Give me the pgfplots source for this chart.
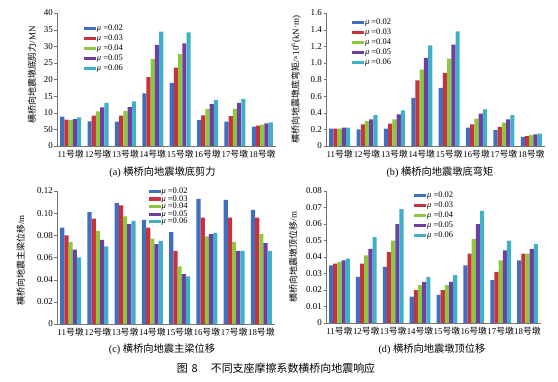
\documentclass[border=0pt]{standalone}
\usepackage{fontspec}
\setmainfont{Liberation Serif}
\newfontfamily\cjk{Noto Sans CJK SC}
\usepackage{pgfplots}
\usepackage{pgfplotstable}
\pgfplotsset{compat=1.18}
\definecolor{c1}{HTML}{3F6FC0}
\definecolor{c2}{HTML}{C8323C}
\definecolor{c3}{HTML}{8DC63F}
\definecolor{c4}{HTML}{6E3FA0}
\definecolor{c5}{HTML}{3FB0C8}
\newcommand\hd{{\cjk 号墩}}
\newcommand\mumu[1]{{\itshape μ} =#1}

\pgfplotstableread{
x a b c d e
0 8.8 7.9 7.8 8.1 8.6
1 7.4 9.1 10.4 11.6 13.0
2 7.3 9.1 10.5 11.7 13.4
3 15.8 20.7 26.2 30.4 34.4
4 19.0 23.6 27.6 30.9 34.2
5 7.8 9.2 11.2 12.6 13.9
6 7.3 9.0 11.2 13.0 14.2
7 5.8 6.1 6.4 6.8 7.1
}\tabA
\pgfplotstableread{
x a b c d e
0 0.21 0.21 0.21 0.22 0.22
1 0.20 0.26 0.30 0.32 0.37
2 0.21 0.27 0.32 0.38 0.43
3 0.58 0.79 0.92 1.06 1.21
4 0.70 0.88 1.05 1.22 1.38
5 0.22 0.26 0.33 0.39 0.44
6 0.19 0.23 0.28 0.32 0.37
7 0.11 0.12 0.13 0.14 0.15
}\tabB
\pgfplotstableread{
x a b c d e
0 0.087 0.080 0.074 0.067 0.060
1 0.101 0.095 0.084 0.076 0.070
2 0.109 0.107 0.097 0.090 0.093
3 0.094 0.087 0.077 0.072 0.075
4 0.083 0.066 0.052 0.045 0.043
5 0.113 0.096 0.079 0.081 0.082
6 0.112 0.096 0.074 0.066 0.066
7 0.103 0.096 0.081 0.073 0.066
}\tabC
\pgfplotstableread{
x a b c d e
0 0.035 0.036 0.037 0.038 0.039
1 0.028 0.036 0.041 0.045 0.052
2 0.034 0.043 0.050 0.060 0.069
3 0.016 0.020 0.023 0.025 0.028
4 0.017 0.020 0.023 0.025 0.029
5 0.035 0.042 0.051 0.060 0.068
6 0.026 0.031 0.038 0.044 0.050
7 0.038 0.042 0.042 0.045 0.048
}\tabD

\newcommand\fivebars[1]{%
  \addplot[fill=c1, bar shift=-0.3077] table[x=x,y=a]{#1};
  \addplot[fill=c2, bar shift=-0.1538] table[x=x,y=b]{#1};
  \addplot[fill=c3, bar shift=0] table[x=x,y=c]{#1};
  \addplot[fill=c4, bar shift=0.1538] table[x=x,y=d]{#1};
  \addplot[fill=c5, bar shift=0.3077] table[x=x,y=e]{#1};
  \legend{\mumu{0.02},\mumu{0.03},\mumu{0.04},\mumu{0.05},\mumu{0.06}}
}

\pgfplotsset{
 pier/.style={
  scale only axis, width=219bp, height=133bp, anchor=south west,
  ybar, bar width=0.1538, xmin=-0.5, xmax=7.5, ymin=0,
  scaled y ticks=false,
  axis x line*=bottom, axis y line*=left, axis line style={-, black!55},
  xtick={0,1,2,3,4,5,6,7},
  xticklabels={11\hd,12\hd,13\hd,14\hd,15\hd,16\hd,17\hd,18\hd},
  x tick style={draw=none},
  y tick style={black!55}, tick align=outside, major tick length=2.5bp,
  yticklabel style={font=\fontsize{9}{10}\selectfont, inner sep=1.5bp},
  xticklabel style={font=\fontsize{8.9}{10}\selectfont, inner sep=1bp},
  ylabel style={font=\fontsize{9}{10}\selectfont, anchor=center},
  legend style={draw=none, fill=none, font=\fontsize{8.5}{9}\selectfont,
    anchor=north west, inner sep=0pt, row sep=1.2bp, nodes={inner sep=0.8bp}},
  legend cell align=left,
  legend image code/.code={\fill (0bp,-1.6bp) rectangle (12bp,1.6bp);},
  every axis plot/.append style={draw=none},
 }
}

\begin{document}
\begin{tikzpicture}
\path[use as bounding box] (0bp,0bp) rectangle (558bp,382bp);

\begin{axis}[pier, at={(57bp,236bp)}, ymax=40,
  ytick={0,5,10,15,20,25,30,35,40},
  yticklabels={0,50,10,15,20,25,30,35,40},
  ylabel={{\cjk 横桥向地震墩底剪力}/MN},
  ylabel style={at={(axis description cs:-0.114,0.534)}},
  legend style={at={(0.123,0.915)}}]
\fivebars{\tabA}
\end{axis}

\begin{axis}[pier, at={(326bp,236bp)}, ymax=1.6,
  ytick={0,0.2,0.4,0.6,0.8,1.0,1.2,1.4,1.6},
  yticklabels={0,0.2,0.4,0.6,0.8,1.0,1.2,1.4,1.6},
  ylabel={{\cjk 横桥向地震墩底弯矩}/×10\textsuperscript{6}(kN·m)},
  ylabel style={at={(axis description cs:-0.137,0.50)}},
  legend style={at={(0.119,0.96)}}]
\fivebars{\tabB}
\end{axis}

\begin{axis}[pier, at={(57bp,58bp)}, width=218bp, ymax=0.12,
  ytick={0,0.02,0.04,0.06,0.08,0.10,0.12},
  yticklabels={0,0.02,0.04,0.06,0.08,0.10,0.12},
  ylabel={{\cjk 横桥向地震主梁位移}/m},
  ylabel style={at={(axis description cs:-0.167,0.48)}},
  legend style={at={(0.42,1.03)}, row sep=-1.2bp}]
\fivebars{\tabC}
\end{axis}

\begin{axis}[pier, at={(326bp,59bp)}, width=215bp, height=132bp, ymax=0.08,
  ytick={0,0.01,0.02,0.03,0.04,0.05,0.06,0.07,0.08},
  yticklabels={0,0.01,0.02,0.03,0.04,0.05,0.06,0.07,0.08},
  ylabel={{\cjk 横桥向地震墩顶位移}/m},
  ylabel style={at={(axis description cs:-0.153,0.5)}},
  legend style={at={(0.41,1.0)}}]
\fivebars{\tabD}
\end{axis}

\node[font=\fontsize{10.3}{11}\selectfont] at (162.5bp,210bp) {(a) {\cjk 横桥向地震墩底剪力}};
\node[font=\fontsize{10.3}{11}\selectfont] at (440bp,210bp) {(b) {\cjk 横桥向地震墩底弯矩}};
\node[font=\fontsize{10.3}{11}\selectfont] at (162bp,33bp) {(c) {\cjk 横桥向地震主梁位移}};
\node[font=\fontsize{10.3}{11}\selectfont] at (432bp,33bp) {(d) {\cjk 横桥向地震墩顶位移}};
\node[font=\fontsize{11}{12}\selectfont] at (276bp,14bp) {{\cjk 图}\hspace{0.35em}{\cjk 8}\hspace{1.2em}{\cjk 不同支座摩擦系数横桥向地震响应}};
\end{tikzpicture}
\end{document}
